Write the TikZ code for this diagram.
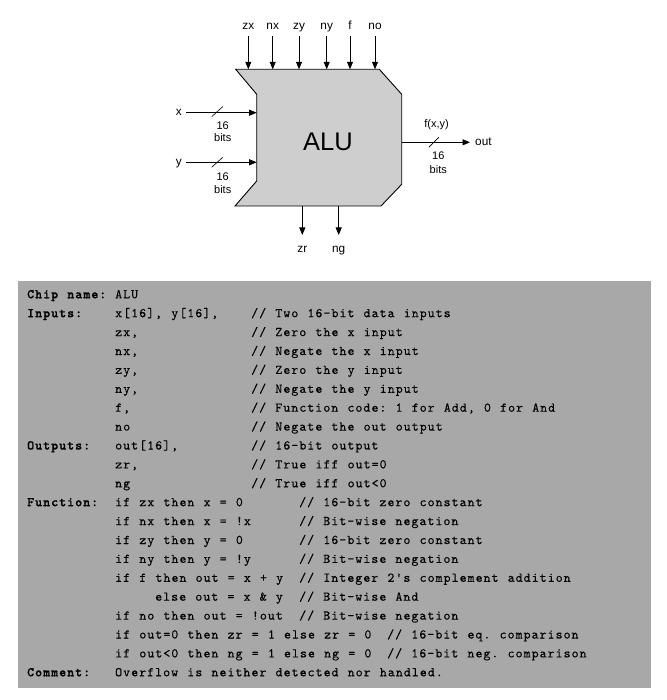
\documentclass[tikz,border=0pt]{standalone}
\usepackage{fontspec}
\setmainfont{Liberation Sans}
\newfontfamily\codefont{lmmono10-regular.otf}[
  BoldFont=lmmonolt10-bold.otf,
  LetterSpace=7.5,
  WordSpace={1.143,0,0},
  Ligatures=TeXOff,
  UprightFeatures={FakeBold=0.2},
  BoldFeatures={FakeBold=0.9}]
\usetikzlibrary{arrows.meta}
\frenchspacing

\definecolor{panelgray}{HTML}{A8A8A8}
\definecolor{alugray}{HTML}{CECECE}

\begin{document}
\begin{tikzpicture}[x=1pt,y=-1pt,
  wire/.style={line width=0.8pt, -{Triangle[length=7.5pt,width=6pt]}},
  busmark/.style={line width=0.6pt},
  lbl/.style={inner sep=0pt, text depth=0pt, font=\fontsize{11.8}{13}\selectfont},
  small/.style={inner sep=0pt, anchor=base, font=\fontsize{11}{12}\selectfont},
  code/.style={anchor=base west, inner sep=0pt, font=\codefont\frenchspacing\fontsize{13.33}{16}\selectfont},
  key/.style={anchor=base west, inner sep=0pt, font=\codefont\bfseries\fontsize{13.33}{16}\selectfont}
]
\useasboundingbox (0,0) rectangle (666,700);

% ---------------- ALU block ----------------
\coordinate (A) at (235.7,69.3);
\coordinate (B) at (379.3,69.3);
\coordinate (C) at (401.7,94.3);
\coordinate (D) at (401.7,184.3);
\coordinate (E) at (381,206);
\coordinate (F) at (235,206);
\coordinate (G) at (256.7,181);
\coordinate (H) at (256.7,94.3);
\filldraw[fill=alugray, draw=black, line width=0.9pt, line join=miter]
  (A) -- (B) -- (C) -- (D) -- (E) -- (F) -- (G) -- (H) -- cycle;
\node[inner sep=0pt, font=\fontsize{25.5}{28}\selectfont] (alu) at (328,141.7) {ALU};

% control inputs along the top edge
\foreach \n/\x in {zx/248.3, nx/272.7, zy/299, ny/326.7, f/350, no/375} {
  \node[lbl, anchor=south] (\n) at (\x,30) {\n};
  \coordinate (\n-in) at (\x,69.3);
  \draw[wire] ([yshift=-6.5pt]\n.south) -- (\n-in);
}

% data inputs x and y
\node[lbl, anchor=base east] (x) at (182,116) {x};
\coordinate (x-in) at (256.7,112.7);
\draw[wire] (186,112.7) -- (x-in);
\draw[busmark] (211.7,116.7) -- (222.7,106.7);
\node[small] (x16) at (222.7,129.5) {16};
\node[small] (xbits) at (222.7,142) {bits};

\node[lbl, anchor=base east] (y) at (182,165.6) {y};
\coordinate (y-in) at (256.7,162.3);
\draw[wire] (186,162.3) -- (y-in);
\draw[busmark] (211.7,167.3) -- (222.7,157.3);
\node[small] (y16) at (222.7,180.8) {16};
\node[small] (ybits) at (222.7,193.5) {bits};

% output
\coordinate (o-src) at (401.7,142.3);
\node[lbl, anchor=base west] (out) at (475,146) {out};
\draw[wire] (o-src) -- ([xshift=-5pt]out.base west |- o-src);
\draw[busmark] (428.8,147.3) -- (438.8,137.3);
\node[small] (fxy) at (436.5,127.5) {f(x,y)};
\node[small] (o16) at (438.3,160) {16};
\node[small] (obits) at (438.3,173.5) {bits};

% status outputs along the bottom edge
\foreach \n/\x in {zr/302.3, ng/338.7} {
  \coordinate (\n-src) at (\x,206);
  \node[lbl, anchor=base] (\n) at (\x,252.5) {\n};
  \draw[wire] (\n-src) -- (\x,235);
}

% ---------------- interface listing ----------------
\fill[panelgray] (18,281) rectangle (651,688);

% labels (col 0)
\node[key] (kchip) at (27,298.3) {Chip name:};
\node[key] (kin)   at (27,317.2) {Inputs:};
\node[key] (kout)  at (27,449.5) {Outputs:};
\node[key] (kfun)  at (27,506.2) {Function:};
\node[key] (kcom)  at (27,676.3) {Comment:};

% values (col 11 = 115, col 16 = 155)
\node[code] (v0)  at (115,298.3) {ALU};
\node[code] (v1)  at (115,317.2) {x[16], y[16],};
\node[code] (v2)  at (115,336.1) {zx,};
\node[code] (v3)  at (115,355.0) {nx,};
\node[code] (v4)  at (115,373.9) {zy,};
\node[code] (v5)  at (115,392.8) {ny,};
\node[code] (v6)  at (115,411.7) {f,};
\node[code] (v7)  at (115,430.6) {no};
\node[code] (v8)  at (115,449.5) {out[16],};
\node[code] (v9)  at (115,468.4) {zr,};
\node[code] (v10) at (115,487.3) {ng};
\node[code] (v11) at (115,506.2) {if zx then x = 0};
\node[code] (v12) at (115,525.1) {if nx then x = !x};
\node[code] (v13) at (115,544.0) {if zy then y = 0};
\node[code] (v14) at (115,562.9) {if ny then y = !y};
\node[code] (v15) at (115,581.8) {if f then out = x + y};
\node[code] (v16) at (155,600.7) {else out = x \& y};
\node[code] (v17) at (115,619.6) {if no then out = !out};
\node[code] (v18) at (115,638.5) {if out=0 then zr = 1 else zr = 0};
\node[code] (v19) at (115,657.4) {if out<0 then ng = 1 else ng = 0};
\node[code] (v20) at (115,676.3) {Overflow is neither detected nor handled.};

% comments (col 28 = 251, col 34 = 299, col 45 = 387)
\node[code] (c1)  at (251,317.2) {// Two 16-bit data inputs};
\node[code] (c2)  at (251,336.1) {// Zero the x input};
\node[code] (c3)  at (251,355.0) {// Negate the x input};
\node[code] (c4)  at (251,373.9) {// Zero the y input};
\node[code] (c5)  at (251,392.8) {// Negate the y input};
\node[code] (c6)  at (251,411.7) {// Function code: 1 for Add, 0 for And};
\node[code] (c7)  at (251,430.6) {// Negate the out output};
\node[code] (c8)  at (251,449.5) {// 16-bit output};
\node[code] (c9)  at (251,468.4) {// True iff out=0};
\node[code] (c10) at (251,487.3) {// True iff out<0};
\node[code] (c11) at (299,506.2) {// 16-bit zero constant};
\node[code] (c12) at (299,525.1) {// Bit-wise negation};
\node[code] (c13) at (299,544.0) {// 16-bit zero constant};
\node[code] (c14) at (299,562.9) {// Bit-wise negation};
\node[code] (c15) at (299,581.8) {// Integer 2's complement addition};
\node[code] (c16) at (299,600.7) {// Bit-wise And};
\node[code] (c17) at (299,619.6) {// Bit-wise negation};
\node[code] (c18) at (387,638.5) {// 16-bit eq. comparison};
\node[code] (c19) at (387,657.4) {// 16-bit neg. comparison};
\end{tikzpicture}
\end{document}
